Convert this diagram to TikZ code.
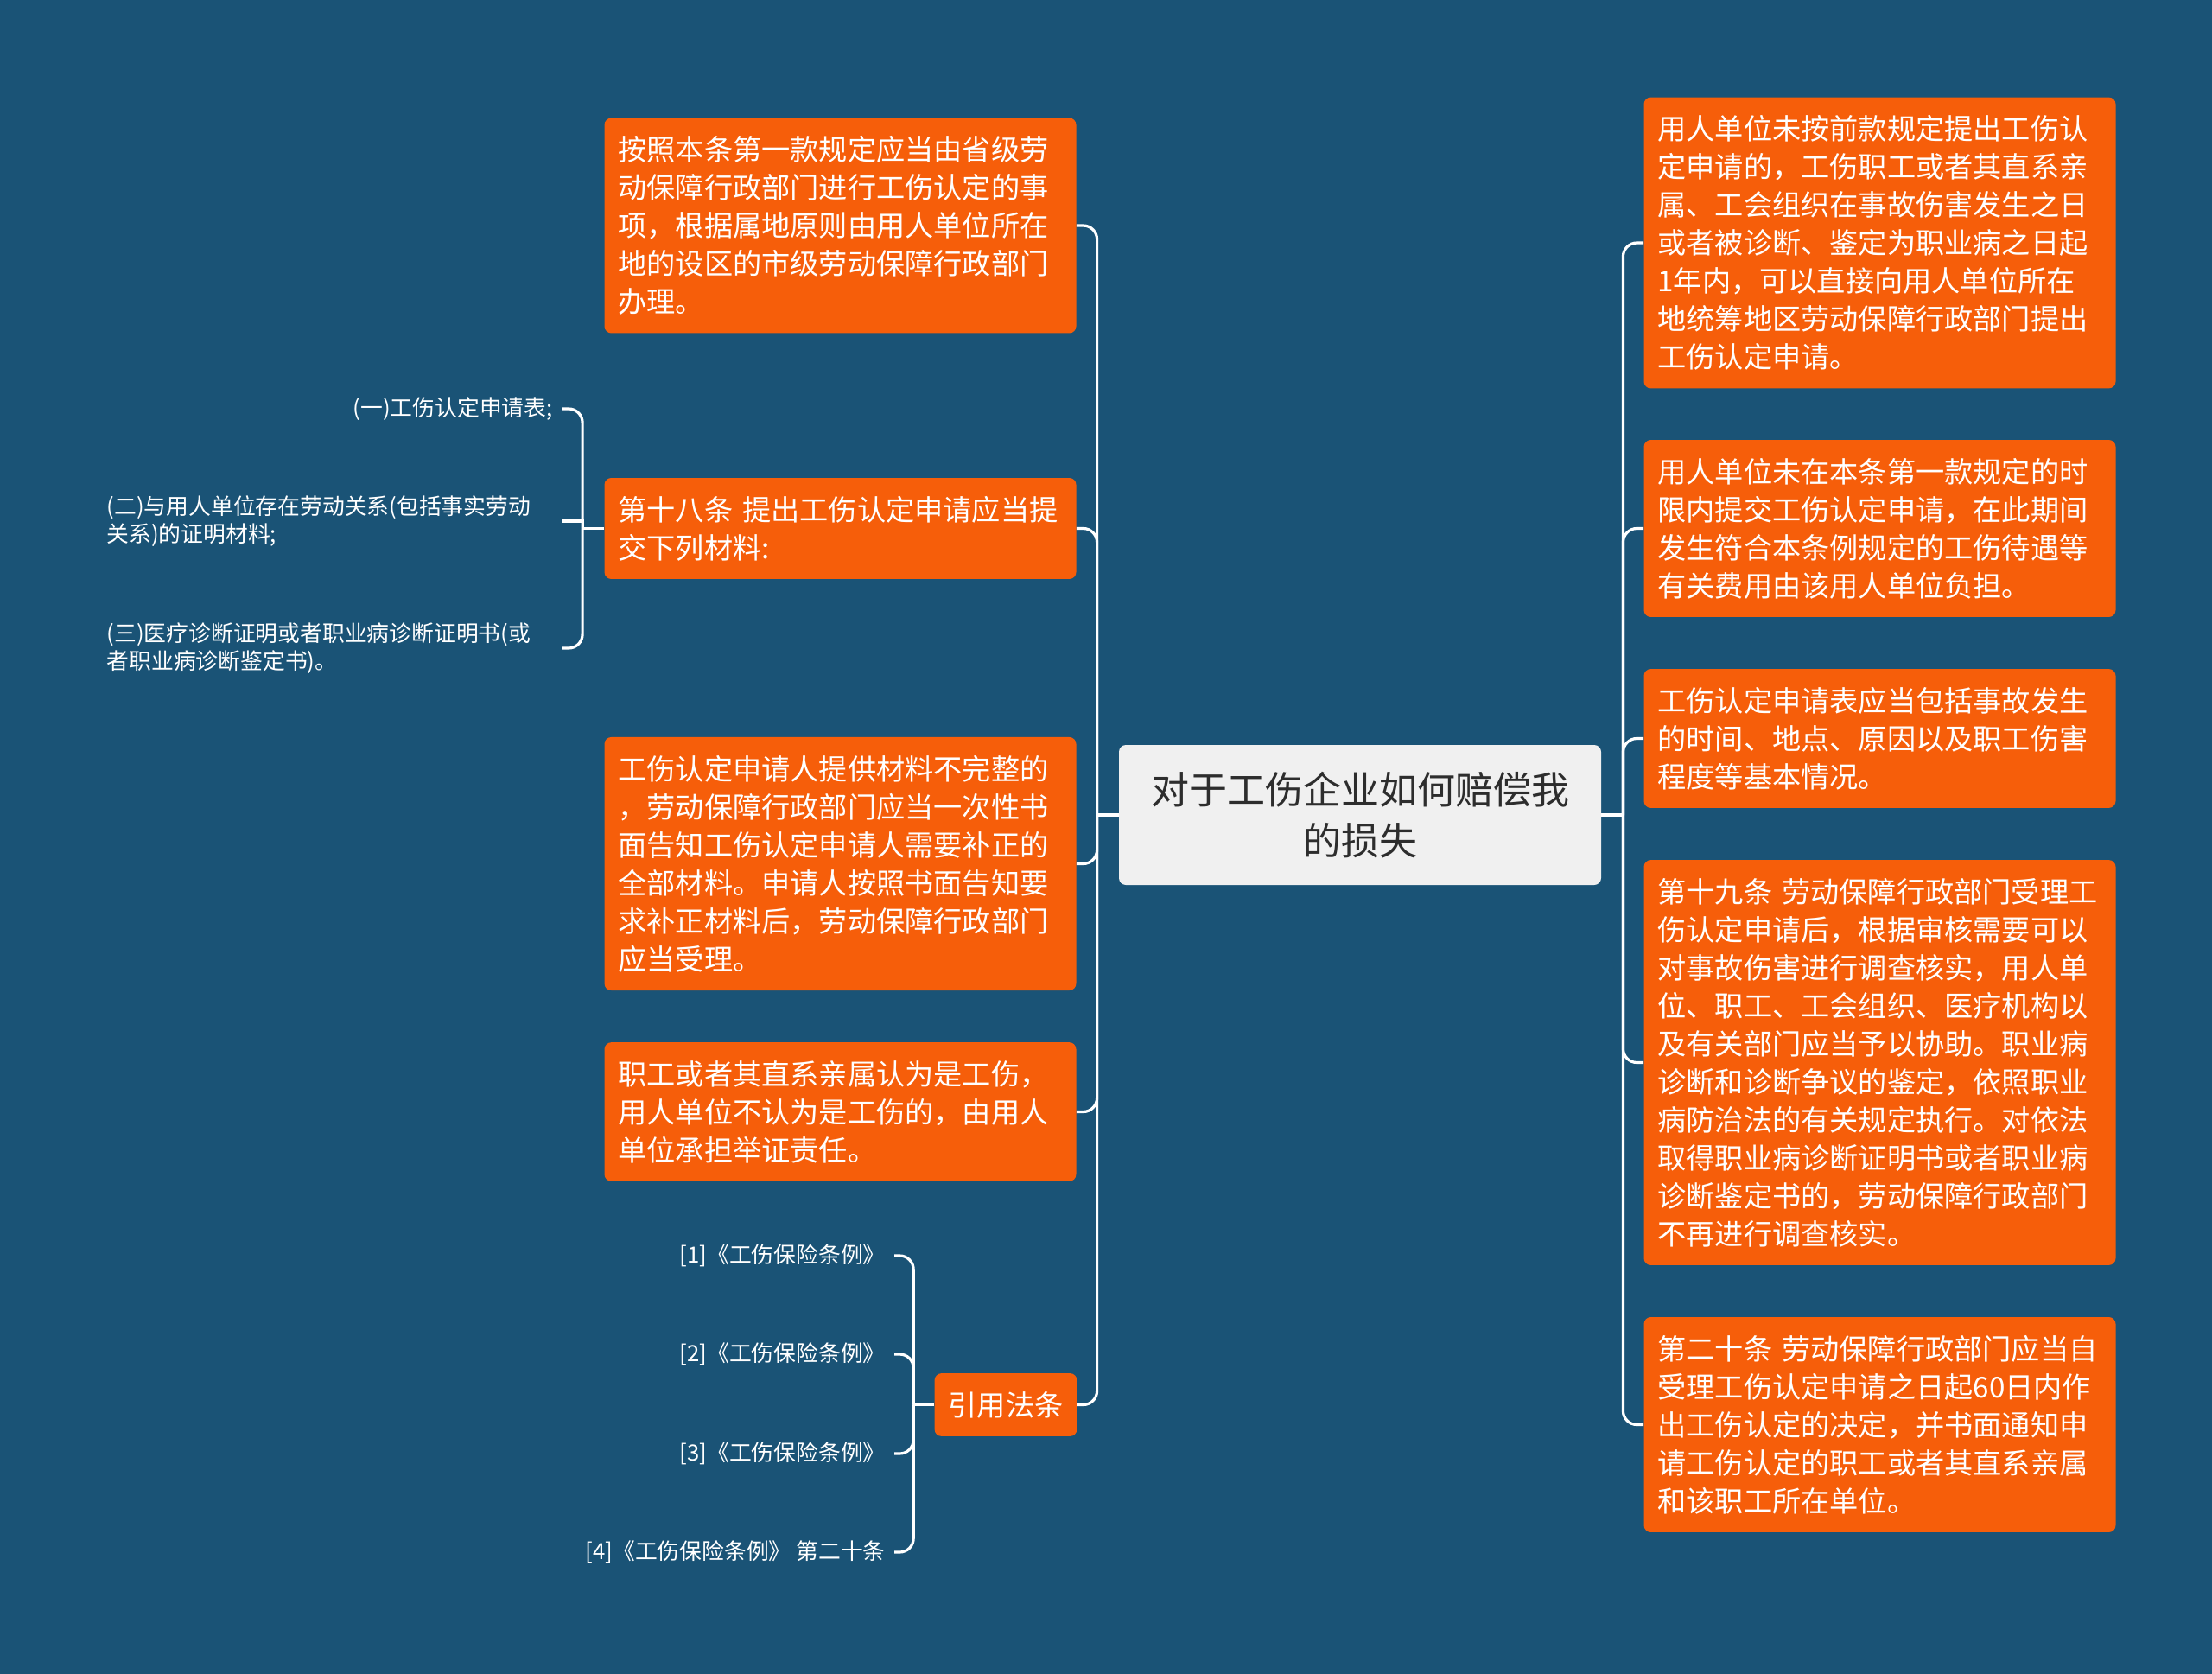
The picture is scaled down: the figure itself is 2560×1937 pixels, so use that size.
\documentclass[tikz,border=0pt]{standalone}
\usepackage{fontspec}
\setmainfont{Noto Sans CJK SC}
\usepackage{tikz}
\usepackage{xcolor}
\definecolor{bgblue}{RGB}{26,83,118}
\definecolor{boxorange}{RGB}{246,94,10}
\definecolor{rootgray}{RGB}{240,240,240}
\definecolor{roottext}{RGB}{45,45,45}

\begin{document}
\begin{tikzpicture}[x=0.5pt,y=-0.5pt,
  box/.style={fill=boxorange,rounded corners=4pt,text=white,align=left,inner xsep=8pt,inner ysep=10.5pt,text width=257pt,font=\fontsize{16.6}{22}\selectfont},
  root/.style={fill=rootgray,rounded corners=4pt,text=roottext,align=center,minimum width=279pt,minimum height=81pt,font=\fontsize{22}{29.4}\selectfont},
  leaf/.style={text=white,inner xsep=5pt,inner ysep=2pt,font=\fontsize{12.9}{16.3}\selectfont},
  link/.style={white,line width=1.6pt},
  branch/.style={link,rounded corners=8pt}]
\fill[bgblue] (0,0) rectangle (2560,1937);
\node[root] (root) at (1574,943) {对于工伤企业如何赔偿我\\的损失};
\node[box] (L1) at (972.5,261) {按照本条第一款规定应当由省级劳\\动保障行政部门进行工伤认定的事\\项，根据属地原则由用人单位所在\\地的设区的市级劳动保障行政部门\\办理。};
\node[box] (L2) at (972.5,611.5) {第十八条 提出工伤认定申请应当提\\交下列材料:};
\node[box] (L3) at (972.5,999.5) {工伤认定申请人提供材料不完整的\\，劳动保障行政部门应当一次性书\\面告知工伤认定申请人需要补正的\\全部材料。申请人按照书面告知要\\求补正材料后，劳动保障行政部门\\应当受理。};
\node[box] (L4) at (972.5,1286.5) {职工或者其直系亲属认为是工伤，\\用人单位不认为是工伤的，由用人\\单位承担举证责任。};
\node[box,text width=66.4pt,align=center] (cite) at (1164,1625.5) {引用法条};
\node[box] (R1) at (2175.5,281) {用人单位未按前款规定提出工伤认\\定申请的，工伤职工或者其直系亲\\属、工会组织在事故伤害发生之日\\或者被诊断、鉴定为职业病之日起\\1年内，可以直接向用人单位所在\\地统筹地区劳动保障行政部门提出\\工伤认定申请。};
\node[box] (R2) at (2175.5,611.5) {用人单位未在本条第一款规定的时\\限内提交工伤认定申请，在此期间\\发生符合本条例规定的工伤待遇等\\有关费用由该用人单位负担。};
\node[box] (R3) at (2175.5,854.5) {工伤认定申请表应当包括事故发生\\的时间、地点、原因以及职工伤害\\程度等基本情况。};
\node[box] (R4) at (2175.5,1229.5) {第十九条 劳动保障行政部门受理工\\伤认定申请后，根据审核需要可以\\对事故伤害进行调查核实，用人单\\位、职工、工会组织、医疗机构以\\及有关部门应当予以协助。职业病\\诊断和诊断争议的鉴定，依照职业\\病防治法的有关规定执行。对依法\\取得职业病诊断证明书或者职业病\\诊断鉴定书的，劳动保障行政部门\\不再进行调查核实。};
\node[box] (R5) at (2175.5,1648.5) {第二十条 劳动保障行政部门应当自\\受理工伤认定申请之日起60日内作\\出工伤认定的决定，并书面通知申\\请工伤认定的职工或者其直系亲属\\和该职工所在单位。};
\node[leaf,anchor=east,text width=258pt,align=right] (m1) at (650,473) {(一)工伤认定申请表;};
\node[leaf,anchor=east,text width=258pt,align=left] (m2) at (650,603) {(二)与用人单位存在劳动关系(包括事实劳动\\关系)的证明材料;};
\node[leaf,anchor=east,text width=258pt,align=left] (m3) at (650,750) {(三)医疗诊断证明或者职业病诊断证明书(或\\者职业病诊断鉴定书)。};
\node[leaf,anchor=east] (c1) at (1035,1453) {[1]《工伤保险条例》};
\node[leaf,anchor=east] (c2) at (1035,1567) {[2]《工伤保险条例》};
\node[leaf,anchor=east] (c3) at (1035,1682) {[3]《工伤保险条例》};
\node[leaf,anchor=east] (c4) at (1035,1796) {[4]《工伤保险条例》 第二十条};
% stubs out of the parents
\draw[link] (root.west) -- ++(-25,0) coordinate (lj);
\draw[link] (root.east) -- ++(25,0) coordinate (rj);
\draw[link] (L2.west) -- ++(-25,0) coordinate (lb);
\draw[link] (cite.west) -- ++(-24,0) coordinate (cb);
\draw[branch] (lj) |- (L1.east);
\draw[branch] (lj) |- (L2.east);
\draw[branch] (lj) |- (L3.east);
\draw[branch] (lj) |- (L4.east);
\draw[branch] (lj) |- (cite.east);
\draw[branch] (rj) |- (R1.west);
\draw[branch] (rj) |- (R2.west);
\draw[branch] (rj) |- (R3.west);
\draw[branch] (rj) |- (R4.west);
\draw[branch] (rj) |- (R5.west);
\draw[branch] (lb) |- (m1.east);
\draw[link] (lb) |- (m2.east);
\draw[branch] (lb) |- (m3.east);
\draw[branch] (cb) |- (c1.east);
\draw[branch] (cb) |- (c2.east);
\draw[branch] (cb) |- (c3.east);
\draw[branch] (cb) |- (c4.east);
\end{tikzpicture}
\end{document}
